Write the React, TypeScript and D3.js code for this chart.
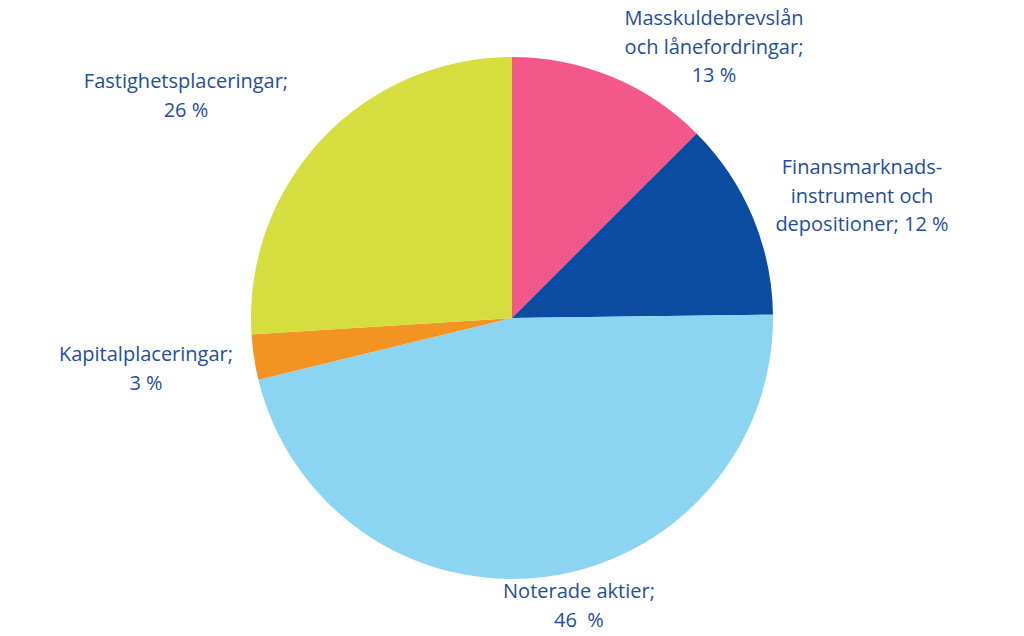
import React from "react";
import * as d3 from "d3";

const categories = [
  "Masskuldebrevslån och lånefordringar",
  "Finansmarknadsinstrument och depositioner",
  "Noterade aktier",
  "Kapitalplaceringar",
  "Fastighetsplaceringar",
];
const values = [12.5, 12.3, 46.4, 2.8, 26.0];
const colors = ["#F4588B", "#0B4CA1", "#8CD5F2", "#F39322", "#D5DE3E"];
const labelLines = [
  ["Masskuldebrevslån", "och lånefordringar;", "13 %"],
  ["Finansmarknads-", "instrument och", "depositioner; 12 %"],
  ["Noterade aktier;", "46  %"],
  ["Kapitalplaceringar;", "3 %"],
  ["Fastighetsplaceringar;", "26 %"],
];
// label anchor positions (center x, first baseline y)
const labelPos: [number, number][] = [
  [714, 25],
  [862, 174],
  [579, 598],
  [146, 361],
  [186, 88],
];

export default function App() {
  const W = 1024, H = 636;
  const cx = 512, cy = 318, r = 261;
  const pie = d3.pie<number>().sort(null).value((d) => d);
  const arcs = pie(values);
  const arc = d3.arc<d3.PieArcDatum<number>>().innerRadius(0).outerRadius(r);
  return (
    <svg width={W} height={H} style={{ position: "absolute", left: 0, top: 0, background: "#fff" }}>
      <g transform={`translate(${cx},${cy})`}>
        {arcs.map((a, i) => (
          <path key={categories[i]} d={arc(a) || ""} fill={colors[i]} />
        ))}
      </g>
      {labelLines.map((lines, i) => (
        <text
          key={i}
          x={labelPos[i][0]}
          y={labelPos[i][1]}
          textAnchor="middle"
          fill="#1F4E9A"
          fontFamily="'Open Sans', sans-serif"
          fontSize={20}
          style={{ whiteSpace: "pre" }}
        >
          {lines.map((l, j) => (
            <tspan key={j} x={labelPos[i][0]} dy={j === 0 ? 0 : 28.5}>
              {l}
            </tspan>
          ))}
        </text>
      ))}
    </svg>
  );
}
